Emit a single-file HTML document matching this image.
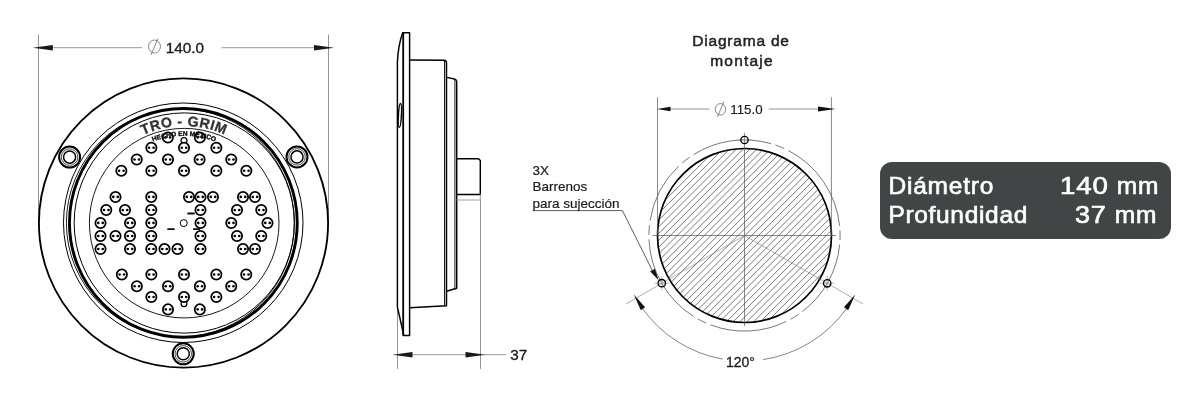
<!DOCTYPE html>
<html lang="es"><head><meta charset="utf-8"><title>Diagrama de montaje</title>
<style>
html,body{margin:0;padding:0;background:#fff;}
body{width:1200px;height:400px;overflow:hidden;position:relative;font-family:"Liberation Sans",sans-serif;}
svg{position:absolute;left:0;top:0;display:block;will-change:transform}
.title,.badge{will-change:transform}
text{font-family:"Liberation Sans",sans-serif;}
.badge{position:absolute;left:879.5px;top:161.5px;width:291px;height:77px;border-radius:12px;background:#414546;color:#fff;}
.badge span{position:absolute;font-size:24.5px;line-height:28px;letter-spacing:.8px;white-space:nowrap;-webkit-text-stroke:.65px #fff;transform-origin:0 0;}
.title{position:absolute;left:641px;width:200px;top:30.5px;text-align:center;font-size:15.5px;line-height:20.4px;letter-spacing:.8px;color:#222;-webkit-text-stroke:.5px #222;}
</style></head><body>
<svg width="1200" height="400" viewBox="0 0 1200 400">
<defs>
<pattern id="hatch" patternUnits="userSpaceOnUse" width="3.4" height="3.4" patternTransform="rotate(-45 744.5 235.5)">
<line x1="-1" y1="1.7" x2="5" y2="1.7" stroke="#444" stroke-width="0.6"/>
</pattern>
<g id="led"><circle r="5.15" fill="#fff" stroke="#000" stroke-width="1.75"/><circle cx="-2.25" r="1.3" fill="#000"/><circle cx="2.25" r="1.3" fill="#000"/></g>
<g id="screw"><circle r="10.5" fill="#fff" stroke="#000" stroke-width="2"/><circle r="8.25" fill="none" stroke="#000" stroke-width=".7"/><circle r="6.05" fill="none" stroke="#000" stroke-width="1.5"/></g>
<path id="arrL" d="M0 0 L20 -2.8 L20 2.8 Z" fill="#1a1a1a"/>
</defs>

<g id="front" fill="none" stroke="#000">
<line x1="38.5" y1="34.5" x2="38.5" y2="223" stroke="#666" stroke-width=".7"/>
<line x1="328.5" y1="34.5" x2="328.5" y2="223" stroke="#666" stroke-width=".7"/>
<line x1="50" y1="47.7" x2="142" y2="47.7" stroke="#999" stroke-width="1"/>
<line x1="221.5" y1="47.7" x2="316" y2="47.7" stroke="#999" stroke-width="1"/>
<use href="#arrL" x="32.8" y="47.7" stroke="none"/>
<use href="#arrL" transform="translate(334 47.7) scale(-1 1)" stroke="none"/>
<ellipse cx="154.5" cy="46.5" rx="6" ry="6.5" stroke="#555" stroke-width=".7"/>
<line x1="158" y1="38.5" x2="151" y2="54.8" stroke="#555" stroke-width=".7"/>
<text x="165.7" y="53" font-size="15.3" fill="#1a1a1a" stroke="#1a1a1a" stroke-width=".35">140.0</text>
<circle cx="183.5" cy="223.05" r="144.6" stroke-width="1.85"/>
<circle cx="183.25" cy="222.75" r="119.75" stroke-width="1"/>
<circle cx="180.4" cy="222.85" r="114" stroke-width=".9"/>
<ellipse cx="183.35" cy="222.85" rx="113.9" ry="114.4" stroke-width="2.9"/>
<circle cx="184.25" cy="223" r="110.1" stroke-width="1"/>
<circle cx="184.2" cy="223.15" r="94.8" stroke-width=".9"/>
<use href="#screw" x="69.6" y="157.1"/>
<use href="#screw" x="297" y="156.9"/>
<use href="#screw" x="183.25" y="353.8"/>
</g>
<path id="p1" d="M121.33 148.81 A97.5 97.5 0 0 1 246.67 148.81" fill="none"/>
<path id="p2" d="M127.69 156.39 A87.6 87.6 0 0 1 240.31 156.39" fill="none"/>
<text font-size="14.2" font-weight="bold" fill="#333" stroke="#333" stroke-width=".3" letter-spacing=".45" text-anchor="middle"><textPath href="#p1" startOffset="50%">TRO - GRIM</textPath></text>
<circle cx="184" cy="140.6" r="3" fill="#fff" stroke="#000" stroke-width="1.2"/>
<circle cx="184" cy="303.6" r="3" fill="#fff" stroke="#000" stroke-width="1.2"/>
<circle cx="183.75" cy="223.1" r="3.5" fill="#fff" stroke="#000" stroke-width="1"/>
<rect x="167.25" y="228.2" width="7.5" height="1.8" rx=".6" fill="#111"/>
<rect x="187.25" y="212.6" width="7.5" height="1.8" rx=".6" fill="#111"/>
<rect x="193.0" y="228.2" width="7" height="1.8" rx=".6" fill="#111"/>
<use href="#led" x="167.85" y="137.50"/>
<use href="#led" x="199.85" y="137.50"/>
<use href="#led" x="151.35" y="147.75"/>
<use href="#led" x="184.00" y="147.75"/>
<use href="#led" x="216.35" y="147.75"/>
<use href="#led" x="136.75" y="159.50"/>
<use href="#led" x="168.00" y="159.50"/>
<use href="#led" x="199.60" y="159.50"/>
<use href="#led" x="231.25" y="159.50"/>
<use href="#led" x="121.35" y="170.75"/>
<use href="#led" x="151.35" y="170.75"/>
<use href="#led" x="184.00" y="170.75"/>
<use href="#led" x="216.35" y="170.75"/>
<use href="#led" x="246.35" y="170.75"/>
<use href="#led" x="121.85" y="274.50"/>
<use href="#led" x="151.35" y="274.50"/>
<use href="#led" x="184.00" y="274.50"/>
<use href="#led" x="216.35" y="274.50"/>
<use href="#led" x="246.25" y="274.50"/>
<use href="#led" x="136.85" y="286.25"/>
<use href="#led" x="168.00" y="286.25"/>
<use href="#led" x="199.85" y="286.25"/>
<use href="#led" x="231.25" y="286.25"/>
<use href="#led" x="151.35" y="297.00"/>
<use href="#led" x="184.00" y="297.00"/>
<use href="#led" x="216.35" y="297.00"/>
<use href="#led" x="168.00" y="309.40"/>
<use href="#led" x="199.85" y="309.40"/>
<use href="#led" x="115.50" y="196.90"/>
<use href="#led" x="106.25" y="210.00"/>
<use href="#led" x="125.00" y="210.00"/>
<use href="#led" x="100.50" y="222.90"/>
<use href="#led" x="130.00" y="222.90"/>
<use href="#led" x="100.50" y="236.00"/>
<use href="#led" x="115.50" y="236.00"/>
<use href="#led" x="130.00" y="236.00"/>
<use href="#led" x="100.50" y="249.00"/>
<use href="#led" x="130.00" y="249.00"/>
<use href="#led" x="151.25" y="196.90"/>
<use href="#led" x="151.25" y="210.00"/>
<use href="#led" x="151.25" y="222.90"/>
<use href="#led" x="151.25" y="236.00"/>
<use href="#led" x="151.25" y="249.00"/>
<use href="#led" x="164.50" y="249.00"/>
<use href="#led" x="177.50" y="249.00"/>
<use href="#led" x="189.00" y="196.90"/>
<use href="#led" x="200.50" y="196.90"/>
<use href="#led" x="213.00" y="196.90"/>
<use href="#led" x="200.50" y="210.00"/>
<use href="#led" x="200.50" y="222.90"/>
<use href="#led" x="200.50" y="236.00"/>
<use href="#led" x="200.50" y="249.00"/>
<use href="#led" x="243.00" y="196.90"/>
<use href="#led" x="255.00" y="196.90"/>
<use href="#led" x="237.00" y="210.00"/>
<use href="#led" x="261.25" y="210.00"/>
<use href="#led" x="231.25" y="222.90"/>
<use href="#led" x="267.50" y="222.90"/>
<use href="#led" x="237.00" y="236.00"/>
<use href="#led" x="261.25" y="236.00"/>
<use href="#led" x="243.00" y="249.00"/>
<use href="#led" x="255.00" y="249.00"/>
<text font-size="6.7" font-weight="bold" fill="#000" stroke="#000" stroke-width=".3" text-anchor="middle"><textPath href="#p2" startOffset="50%">HECHO EN MÉXICO</textPath></text>
<g id="side" fill="none" stroke="#000" stroke-width="1.45" stroke-linejoin="round" stroke-linecap="round">
<line x1="397.5" y1="308" x2="397.5" y2="368.5" stroke="#666" stroke-width=".7"/>
<line x1="480.5" y1="200" x2="480.5" y2="368.5" stroke="#666" stroke-width=".7"/>
<line x1="412" y1="354.7" x2="466" y2="354.7" stroke="#999" stroke-width="1"/>
<line x1="484" y1="354.7" x2="505.8" y2="354.7" stroke="#999" stroke-width="1"/>
<use href="#arrL" x="392.5" y="354.7" stroke="none"/>
<use href="#arrL" transform="translate(485.5 354.7) scale(-1 1)" stroke="none"/>
<text x="510.3" y="360.3" font-size="15.2" fill="#1a1a1a" stroke="#1a1a1a" stroke-width=".35">37</text>
<path d="M402.7 32.8 L409.6 32.8 L409.6 335.5 L403.6 335.5 L403.4 333.5 L397.4 307 L397.4 62 Q398.2 45 402.7 32.8 Z" fill="#fff"/>
<line x1="403.2" y1="33" x2="403.2" y2="335.3" stroke-width="1.8"/>
<ellipse cx="399.9" cy="115.5" rx="1.5" ry="12" transform="rotate(3 399.9 115.5)" stroke-width="1.4"/>
<path d="M409.6 60 L444.3 60.2 Q446.4 60.4 446.5 62.5 L446.5 305.8 L409.6 307.8"/>
<line x1="444.6" y1="61" x2="444.6" y2="305.8" stroke-width="1"/>
<path d="M446.5 77.4 L454.5 79 Q456.6 79.6 456.7 81.6 L456.7 288.2 L446.5 291.3"/>
<line x1="454.9" y1="80" x2="454.9" y2="288.6" stroke-width=".9"/>
<path d="M456.7 158.8 L478.5 158.8 L480.3 160.6 L480.3 194.5 L456.7 194.5"/>
<path d="M456.7 200 L480.3 200 L480.3 194.5" stroke="#888" stroke-width=".8"/>
</g>
<g id="mount" fill="none" stroke="#555" stroke-width=".7">
<clipPath id="hc"><circle cx="744.5" cy="235.5" r="87"/></clipPath>
<path d="M521.60 330L711.60 140M528.38 330L718.38 140M535.16 330L725.16 140M541.94 330L731.94 140M548.72 330L738.72 140M555.50 330L745.50 140M562.28 330L752.28 140M569.06 330L759.06 140M575.84 330L765.84 140M582.62 330L772.62 140M589.40 330L779.40 140M596.18 330L786.18 140M602.96 330L792.96 140M609.74 330L799.74 140M616.52 330L806.52 140M623.30 330L813.30 140M630.08 330L820.08 140M636.86 330L826.86 140M643.64 330L833.64 140M650.42 330L840.42 140M657.20 330L847.20 140M663.98 330L853.98 140M670.76 330L860.76 140M677.54 330L867.54 140M684.32 330L874.32 140M691.10 330L881.10 140M697.88 330L887.88 140M704.66 330L894.66 140M711.44 330L901.44 140M718.22 330L908.22 140M725.00 330L915.00 140M731.78 330L921.78 140M738.56 330L928.56 140M745.34 330L935.34 140M752.12 330L942.12 140M758.90 330L948.90 140M765.68 330L955.68 140M772.46 330L962.46 140M779.24 330L969.24 140" clip-path="url(#hc)" stroke="#555" stroke-width=".8"/>
<circle cx="744.5" cy="235.5" r="87" stroke="#000" stroke-width="1.7"/>
<path d="M775.39 145.03A95.6 95.6 0 0 1 784.22 148.54M788.42 150.59A95.6 95.6 0 0 1 839.61 225.84M839.97 230.50A95.6 95.6 0 0 1 839.99 240.00M839.66 244.66A95.6 95.6 0 0 1 802.37 311.60M798.58 314.33A95.6 95.6 0 0 1 790.48 319.32M786.33 321.46A95.6 95.6 0 0 1 710.47 324.84M706.15 323.07A95.6 95.6 0 0 1 697.64 318.83M693.63 316.44A95.6 95.6 0 0 1 648.98 239.42M648.90 234.75A95.6 95.6 0 0 1 649.45 225.26M650.06 220.63A95.6 95.6 0 0 1 678.69 166.15M682.16 163.02A95.6 95.6 0 0 1 689.67 157.19M693.56 154.60A95.6 95.6 0 0 1 770.93 143.63" stroke="#555" stroke-width=".8"/>
<line x1="657.5" y1="97.2" x2="657.5" y2="236" />
<line x1="831.4" y1="97.2" x2="831.4" y2="236" />
<line x1="670" y1="109" x2="709.7" y2="109" stroke="#777" stroke-width=".8"/>
<line x1="768.7" y1="109" x2="818" y2="109" stroke="#777" stroke-width=".8"/>
<path d="M657 109 L670.5 106.8 L670.5 111.2 Z" fill="#111" stroke="none"/>
<path d="M835.5 109 L818 106.6 L818 111.4 Z" fill="#111" stroke="none"/>
<ellipse cx="720.5" cy="109.3" rx="5.2" ry="5.7"/>
<line x1="723.8" y1="101.8" x2="717.5" y2="116.8"/>
<text x="730.3" y="114" font-size="13.3" fill="#1a1a1a" stroke="#1a1a1a" stroke-width=".15">115.0</text>
<line x1="744.5" y1="133" x2="744.5" y2="326"/>
<line x1="652.5" y1="235.5" x2="836" y2="235.5"/>
<line x1="744.5" y1="235.5" x2="625.9" y2="304.0" stroke="#777" stroke-width=".6"/>
<line x1="744.5" y1="235.5" x2="863.1" y2="304.0" stroke="#777" stroke-width=".6"/>
<line x1="737.0" y1="140.0" x2="752.0" y2="140.0" stroke="#999" stroke-width=".6"/>
<line x1="744.5" y1="132.5" x2="744.5" y2="147.5" stroke="#999" stroke-width=".6"/>
<circle cx="744.5" cy="140.0" r="3.7" stroke="#000" stroke-width="1.3"/>
<line x1="654.3" y1="283.2" x2="669.3" y2="283.2" stroke="#999" stroke-width=".6"/>
<line x1="661.8" y1="275.8" x2="661.8" y2="290.8" stroke="#999" stroke-width=".6"/>
<circle cx="661.8" cy="283.2" r="3.7" stroke="#000" stroke-width="1.3"/>
<line x1="819.7" y1="283.3" x2="834.7" y2="283.3" stroke="#999" stroke-width=".6"/>
<line x1="827.2" y1="275.8" x2="827.2" y2="290.8" stroke="#999" stroke-width=".6"/>
<circle cx="827.2" cy="283.3" r="3.7" stroke="#000" stroke-width="1.3"/>
<path d="M641.7 307.5 A125.5 125.5 0 0 0 722.7 359.1" stroke="#666" stroke-width=".8"/>
<path d="M763.1 359.6 A125.5 125.5 0 0 0 847.3 307.5" stroke="#666" stroke-width=".8"/>
<path d="M633.8 294.6 L640.8 310.2 L645.1 307.3 Z" fill="#111" stroke="none"/>
<path d="M855.2 294.6 L843.9 307.3 L848.2 310.2 Z" fill="#111" stroke="none"/>
<text x="726" y="367" font-size="14" fill="#1a1a1a" stroke="#1a1a1a" stroke-width=".3">120°</text>
<path d="M532.8 210.6 L622.4 210.6 L652.2 270.2" stroke="#333" stroke-width=".8"/>
<path d="M658.6 280.2 L650.1 271.3 L654.9 269 Z" fill="#111" stroke="none"/>
<text font-size="13.5" fill="#1a1a1a" stroke="#1a1a1a" stroke-width=".2"><tspan x="532.5" y="175.2">3X</tspan><tspan x="532.5" y="191.4">Barrenos</tspan><tspan x="532.5" y="207.5">para sujección</tspan></text>
</g>
</svg>
<div class="title">Diagrama de<br><span style="letter-spacing:1.2px;padding-left:2px">montaje</span></div>
<div class="badge"><span style="left:8.4px;top:9.5px">Diámetro</span><span style="left:8.4px;top:39px;letter-spacing:.68px">Profundidad</span><span class="n" style="left:180px;top:9.5px;transform:scaleX(1.13)">140</span><span style="left:236.8px;top:9.5px">mm</span><span class="n" style="left:195px;top:39px;transform:scaleX(1.1)">37</span><span style="left:234.8px;top:39px">mm</span></div>
</body></html>
